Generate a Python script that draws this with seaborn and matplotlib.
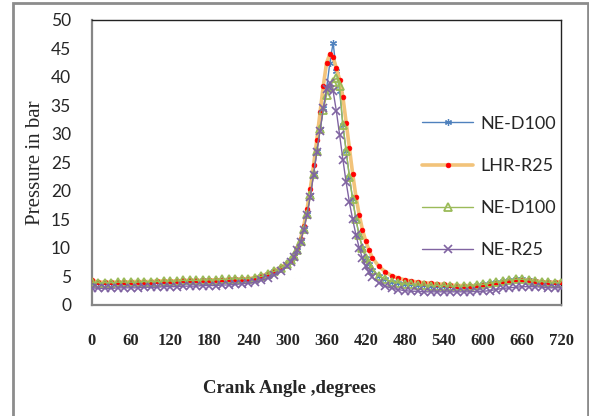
"""Cylinder pressure vs crank angle for the four test fuels (Excel-style line chart)."""

import matplotlib

matplotlib.use("Agg")
import matplotlib.pyplot as plt
import pandas as pd
import seaborn as sns
from matplotlib.patches import Rectangle

# Crank angle samples (degrees) - denser around TDC
ANGLES = [
    0, 10, 20, 30, 40, 50, 60, 70, 80, 90, 100, 110, 120, 130, 140, 150,
    160, 170, 180, 190, 200, 210, 220, 230, 240, 250, 260, 270, 280, 290, 300,
    305, 310, 315, 320, 325, 330, 335, 340, 345, 350, 355, 360, 365, 370,
    375, 380, 385, 390, 395, 400, 405, 410, 415, 420, 425, 430,
    440, 450, 460, 470, 480, 490, 500, 510, 520, 530, 540, 550, 560, 570,
    580, 590, 600, 610, 620, 630, 640, 650, 660, 670, 680, 690, 700, 710, 720,
]

NE_D100_A = [
    3.9, 3.8, 3.8, 3.9, 3.9, 3.9, 4.0, 4.0, 4.0, 4.0, 4.1, 4.1, 4.1, 4.2, 4.2, 4.2,
    4.2, 4.3, 4.3, 4.3, 4.4, 4.4, 4.5, 4.5, 4.5, 4.7, 5.0, 5.4, 5.9, 6.5, 7.2,
    7.8, 8.6, 9.7, 11.2, 13.4, 16.0, 19.3, 23.0, 27.0, 30.8, 34.5, 38.0, 42.5, 46.0,
    41.0, 37.5, 31.5, 27.0, 22.5, 18.5, 15.0, 12.2, 10.0, 8.3, 7.1, 6.2,
    5.1, 4.5, 4.1, 3.9, 3.7, 3.6, 3.5, 3.5, 3.4, 3.4, 3.4, 3.3, 3.3, 3.3,
    3.4, 3.5, 3.6, 3.8, 4.0, 4.2, 4.4, 4.5, 4.5, 4.4, 4.2, 4.1, 4.0, 3.9, 3.9,
]

LHR_R25 = [
    4.3, 4.0, 4.0, 4.0, 4.0, 4.0, 4.1, 4.1, 4.1, 4.1, 4.2, 4.2, 4.2, 4.2, 4.3, 4.3,
    4.3, 4.3, 4.4, 4.4, 4.4, 4.5, 4.5, 4.6, 4.6, 4.8, 5.1, 5.5, 6.0, 6.6, 7.3,
    7.9, 8.8, 10.0, 11.6, 13.9, 16.8, 20.4, 24.5, 29.0, 33.8, 38.5, 42.5, 44.0, 43.5,
    41.5, 39.5, 36.5, 32.0, 27.5, 23.0, 19.0, 15.8, 13.2, 11.2, 9.6, 8.3,
    6.8, 5.8, 5.1, 4.7, 4.4, 4.2, 4.0, 3.9, 3.8, 3.7, 3.6, 3.5, 3.4, 3.4,
    3.4, 3.4, 3.5, 3.6, 3.8, 4.0, 4.2, 4.3, 4.4, 4.3, 4.2, 4.1, 4.0, 4.0, 4.1,
]

NE_D100_B = [
    4.0, 3.9, 3.9, 3.9, 4.0, 4.0, 4.0, 4.0, 4.1, 4.1, 4.1, 4.2, 4.2, 4.2, 4.3, 4.3,
    4.3, 4.4, 4.4, 4.4, 4.5, 4.5, 4.6, 4.6, 4.6, 4.8, 5.0, 5.4, 5.9, 6.5, 7.2,
    7.8, 8.6, 9.7, 11.2, 13.4, 16.0, 19.3, 23.0, 27.0, 30.8, 34.2, 36.8, 38.3, 39.2,
    39.8, 38.5, 31.5, 27.0, 22.5, 18.5, 15.0, 12.2, 10.0, 8.3, 7.1, 6.2,
    5.1, 4.5, 4.1, 3.9, 3.7, 3.6, 3.5, 3.5, 3.4, 3.4, 3.4, 3.3, 3.3, 3.3,
    3.4, 3.5, 3.6, 3.8, 4.0, 4.2, 4.4, 4.5, 4.5, 4.4, 4.2, 4.1, 4.0, 3.9, 3.9,
]

NE_R25 = [
    3.0, 2.9, 2.9, 2.9, 3.0, 3.0, 3.0, 3.0, 3.1, 3.1, 3.1, 3.2, 3.2, 3.2, 3.3, 3.3,
    3.3, 3.4, 3.4, 3.4, 3.5, 3.5, 3.6, 3.7, 3.8, 4.0, 4.3, 4.7, 5.2, 5.9, 6.8,
    7.5, 8.4, 9.6, 11.1, 13.2, 15.8, 19.0, 22.8, 26.8, 30.6, 34.5, 37.8, 39.0, 37.5,
    34.0, 29.8, 25.5, 21.5, 18.0, 15.0, 12.3, 10.0, 8.2, 6.8, 5.7, 4.9,
    3.9, 3.3, 2.9, 2.7, 2.5, 2.4, 2.4, 2.3, 2.3, 2.3, 2.3, 2.3, 2.3, 2.3,
    2.3, 2.4, 2.4, 2.5, 2.7, 2.9, 3.0, 3.1, 3.2, 3.2, 3.2, 3.1, 3.0, 3.0, 3.0,
]

LABELS = ["NE-D100", "LHR-R25", "NE-D100", "NE-R25"]
X_TICKS = [0, 60, 120, 180, 240, 300, 360, 420, 480, 540, 600, 660, 720]
Y_TICKS = [0, 5, 10, 15, 20, 25, 30, 35, 40, 45, 50]

# per-series line / marker styling (Excel defaults)
STYLES = [
    dict(color="#4F81BD", lw=1.0, marker=(6, 2, 0), ms=5, mec="#4F81BD", mfc="#4F81BD", mew=0.9),
    dict(color="#F2C37A", lw=2.6, marker="o", ms=3.4, mec="#FF0000", mfc="#FF0000", mew=0.5),
    dict(color="#9BBB59", lw=1.0, marker="^", ms=5.5, mec="#9BBB59", mfc="none", mew=1.3),
    dict(color="#8064A2", lw=1.0, marker="x", ms=5.5, mec="#8064A2", mfc="#8064A2", mew=1.2),
]


def main() -> None:
    sns.set_style("white")
    plt.rcParams["font.family"] = ["Lato", "DejaVu Sans"]

    fig = plt.figure(figsize=(5.89, 4.16), dpi=100)
    ax = fig.add_axes([0.156, 0.267, 0.797, 0.685])

    series = [NE_D100_A, LHR_R25, NE_D100_B, NE_R25]
    for i, (label, values, style) in enumerate(zip(LABELS, series, STYLES)):
        df = pd.DataFrame({"angle": ANGLES, "pressure": values})
        sns.lineplot(data=df, x="angle", y="pressure", ax=ax, label=label,
                     zorder=2 + i, **style)

    ax.set_xlim(0, 720)
    ax.set_ylim(0, 50)
    ax.set_xticks(X_TICKS)
    ax.set_yticks(Y_TICKS)
    ax.tick_params(axis="both", length=0)
    ax.tick_params(axis="y", pad=15, labelsize=12.5)
    ax.tick_params(axis="x", pad=20)
    for lbl in ax.get_xticklabels():
        lbl.set_family(["Liberation Serif"])
        lbl.set_fontweight("bold")
        lbl.set_fontsize(12)

    ax.set_ylabel("Pressure in bar", family=["Liberation Serif"], fontsize=15, labelpad=4)
    ax.set_xlabel("Crank Angle ,degrees", family=["Liberation Serif"], fontsize=13.5,
                  fontweight="bold")
    ax.xaxis.set_label_coords(0.42, -0.265)

    for side in ["left", "bottom"]:
        ax.spines[side].set_color("#868686")
        ax.spines[side].set_linewidth(1.6)
    for side in ["top", "right"]:
        ax.spines[side].set_color("#222222")
        ax.spines[side].set_linewidth(1.0)

    ax.legend(loc="upper left", bbox_to_anchor=(0.703, 0.664), frameon=False,
              fontsize=13, handlelength=2.85, labelspacing=1.45, handletextpad=0.4,
              borderaxespad=0, borderpad=0)

    # outer chart border
    fig.patches.append(Rectangle((13 / 589, -0.02), 575 / 589, 0.9916 + 0.02,
                                 transform=fig.transFigure, fill=False,
                                 edgecolor="#8c8c8c", linewidth=2.0))

    fig.savefig("out.png", dpi=100)
    plt.close(fig)


if __name__ == "__main__":
    main()
